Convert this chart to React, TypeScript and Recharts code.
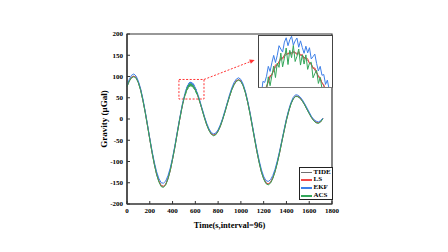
import React from "react";
import {
  Label,
  Line,
  LineChart,
  ReferenceArea,
  ReferenceLine,
  XAxis,
  YAxis,
} from "recharts";

// sample index (s, interval = 96); denser around the zoomed peak
const time = [
  0, 20, 40, 60, 80, 100, 120, 140, 160, 180, 200, 220, 240, 260, 280, 300, 320, 340, 360, 380, 400, 420, 440, 460,
  480, 485, 490, 495, 500, 505,
  510, 512.5, 515, 517.5, 520, 522.5, 525, 527.5, 530, 532.5, 535, 537.5, 540, 542.5, 545, 547.5, 550, 552.5, 555,
  557.5, 560, 562.5, 565, 567.5, 570, 572.5, 575, 577.5, 580, 582.5, 585, 587.5, 590, 592.5, 595, 597.5, 600, 602.5,
  605, 607.5, 610, 612.5, 615,
  620, 625, 630, 635, 640, 645, 650, 655, 660,
  680, 700, 720, 740, 760, 780, 800, 820, 840, 860, 880, 900, 920, 940, 960, 980, 1000, 1020, 1040, 1060, 1080, 1100,
  1120, 1140, 1160, 1180, 1200, 1220, 1240, 1260, 1280, 1300, 1320, 1340, 1360, 1380, 1400, 1420, 1440, 1460, 1480,
  1500, 1520, 1540, 1560, 1580, 1600, 1620, 1640, 1660, 1680, 1700, 1720,
];

const tide = [
  77, 90, 98, 101, 97.5, 86.3, 68.1, 44.2, 15.6, -15.4, -47.4, -78.3, -106.2, -129.4, -146.3, -156.5, -158.8, -153.3,
  -140.1, -120.2, -94.8, -66, -35.1, -4.6,
  23.7, 30.2, 36.3, 42.2, 47.7, 52.9,
  57.8, 60.0, 62.1, 64.1, 66.1, 67.8, 69.5, 71.2, 72.6, 74.0, 75.3, 76.4, 77.4, 78.4, 79.0, 79.7, 80.2, 80.6, 80.8,
  81.0, 81.0, 80.9, 80.7, 80.5, 80.1, 79.7, 79.2, 78.6, 77.9, 77.1, 76.2, 75.3, 74.2, 73.1, 71.9, 70.6, 69.3, 67.9,
  66.4, 64.9, 63.2, 61.6, 59.8,
  56.2, 52.3, 48.3, 44.1, 39.7, 35.3, 30.7, 26.1, 21.5,
  3.3, -13.2, -26.3, -34.9, -38, -35.6, -28.1, -16.2, -0.7, 17.0, 35.6, 53.5, 69.3, 81.6, 89.6, 92.5, 89.2, 78.8, 61.9,
  39.7, 13.0, -16.0, -46.0, -75.0, -101.3, -123.5, -139.9, -150.1, -153, -149.0, -138.8, -122.9, -102.4, -78.5, -52.7,
  -26.8, -2.2, 19.2, 36.2, 48.1, 53.6, 53.3, 49.4, 42.7, 33.7, 23.5, 13.3, 4.0, -3.3, -7.8, -9, -6, 1,
];

const ls = [
  77.5, 89.2, 98.6, 100.4, 98.1, 85.6, 68.9, 43.5, 16.2, -16.1, -46.8, -78.9, -105.6, -130.0, -145.7, -157.2, -158.1,
  -154.0, -139.5, -120.9, -94.2, -66.7, -34.5, -5.2,
  24.2, 29.7, 36.9, 41.7, 48.2, 52.4,
  58.3, 59.6, 62.8, 63.9, 66.7, 67.2, 69.8, 72.0, 72.1, 74.2, 76.2, 76.0, 77.3, 79.1, 78.4, 80.1, 81.0, 80.3, 81.4,
  80.3, 81.5, 81.1, 80.2, 81.4, 79.9, 80.3, 78.4, 78.9, 78.6, 76.7, 76.7, 74.7, 75.0, 73.2, 71.4, 71.3, 69.0, 68.5,
  65.7, 65.3, 63.4, 61.1, 60.4,
  56.8, 51.7, 48.9, 43.5, 40.3, 34.7, 31.3, 25.5, 22.1,
  3.9, -13.8, -25.7, -35.5, -37.4, -36.1, -27.5, -16.8, -0.1, 16.4, 36.2, 52.9, 69.9, 81.0, 90.2, 91.9, 89.8, 78.2,
  62.5, 39.1, 13.6, -16.6, -45.4, -75.6, -100.7, -124.1, -139.3, -150.7, -152.4, -149.6, -138.2, -123.5, -101.8,
  -79.1, -52.1, -27.4, -1.6, 18.6, 36.8, 47.5, 54.2, 52.7, 50.0, 42.1, 34.3, 22.9, 13.9, 3.4, -2.7, -8.4, -8.4, -6.6,
  1.5,
];

const ekf = [
  79, 93, 103, 106, 101, 89, 71, 47, 18, -13, -45, -75, -102, -124, -140, -150, -151, -146, -133, -115, -91, -63, -32,
  -2,
  26.5, 33.8, 38.9, 45.6, 50.4, 56.3,
  60.5, 64.8, 64.0, 69.7, 69.3, 71.7, 75.6, 73.6, 77.0, 79.9, 77.1, 79.9, 83.7, 82.4, 81.2, 85.1, 86.8, 83.7, 86.0,
  87.4, 83.9, 85.6, 86.7, 83.1, 85.6, 83.0, 80.7, 83.5, 80.9, 82.9, 78.5, 79.4, 80.4, 76.7, 73.8, 75.6, 72.1, 72.4,
  68.5, 70.2, 66.6, 63.3, 63.7,
  59.8, 55.1, 51.9, 46.8, 43.1, 37.9, 34.0, 28.7, 24.6,
  6, -10, -23, -32, -35, -33, -25, -13, 2, 20, 38, 57, 73, 86, 94, 97, 93, 82, 65, 42, 16, -13, -43, -71, -97, -119,
  -135, -145, -147, -143, -133, -118, -98, -75, -50, -24, 1, 22, 39, 51, 57, 56, 52, 45, 36, 26, 16, 6, -1, -5, -7,
  -4, 2,
];

const acs = [
  76, 89, 97, 99.5, 96, 85, 67, 43, 15, -16, -48, -79, -107, -131, -148, -159, -161, -155, -141, -121, -95, -67, -36,
  -5,
  23.0, 29.1, 36.8, 40.6, 47.9, 51.5,
  58.1, 57.4, 63.3, 60.2, 66.9, 66.3, 71.5, 68.0, 72.0, 75.7, 71.2, 76.9, 75.2, 80.8, 75.4, 78.8, 82.8, 76.3, 81.9,
  79.0, 83.8, 77.5, 79.5, 82.4, 76.1, 80.1, 76.5, 80.1, 74.4, 76.8, 77.2, 71.1, 72.8, 74.0, 68.9, 71.2, 66.9, 67.1,
  62.6, 65.6, 61.3, 58.5, 60.6,
  55.4, 52.9, 46.8, 44.6, 38.5, 35.7, 29.6, 26.5, 20.8,
  2.5, -14, -27, -36, -39.5, -37, -29, -17, -1.5, 16, 35, 52.5, 68.5, 80.5, 88.5, 91.5, 88, 78, 61, 39, 12, -17, -47,
  -76, -102.5, -125, -141.5, -152, -155, -151, -140.5, -124, -103.5, -79.5, -53.5, -28, -3, 18, 35.5, 47, 53, 52.5,
  48.5, 42, 33, 22.5, 12.5, 3, -4.5, -9, -10.5, -7, 0.5,
];

const xTicks = [0, 200, 400, 600, 800, 1000, 1200, 1400, 1600, 1800];
const yTicks = [-200, -150, -100, -50, 0, 50, 100, 150, 200];

// dashed box marking the zoomed region, and the inset window
const zoomX = [456, 676];
const zoomY = [47, 93];
const insetX = [512, 614];
const insetY = [67.5, 87.5];
const arrowEnd = { x: 1121, y: 139 };

const series = [
  { key: "tide", name: "TIDE", color: "#6f6f6f" },
  { key: "ls", name: "LS", color: "#f24848" },
  { key: "ekf", name: "EKF", color: "#3d7fe8" },
  { key: "acs", name: "ACS", color: "#33a65a" },
];

const data = time.map((t, i) => ({
  t,
  tide: tide[i],
  ls: ls[i],
  ekf: ekf[i],
  acs: acs[i],
}));

const FONT = '"Liberation Serif", "Times New Roman", serif';
const tickStyle = { fill: "#000", fontSize: 7, fontWeight: "bold", fontFamily: FONT };
const axisLine = { stroke: "#333", strokeWidth: 1.2 };

function DashedArrow(props: any) {
  const { x1, y1, x2, y2 } = props;
  const a = Math.atan2(y2 - y1, x2 - x1);
  const head = 5;
  const half = 2.3;
  const bx = x2 - head * Math.cos(a);
  const by = y2 - head * Math.sin(a);
  const pts = [
    `${x2},${y2}`,
    `${bx - half * Math.sin(a)},${by + half * Math.cos(a)}`,
    `${bx + half * Math.sin(a)},${by - half * Math.cos(a)}`,
  ].join(" ");
  return (
    <g>
      <line x1={x1} y1={y1} x2={bx} y2={by} stroke="#f33" strokeWidth={1} strokeDasharray="2 1.6" />
      <polygon points={pts} fill="#f33" />
    </g>
  );
}

export default function App() {
  return (
    <div
      style={{
        position: "absolute",
        left: 0,
        top: 0,
        width: 448,
        height: 252,
        background: "#fff",
        fontFamily: FONT,
      }}
    >
      <LineChart
        width={448}
        height={252}
        data={data}
        margin={{ top: 34, right: 116, bottom: 6, left: 81 }}
      >
        <XAxis
          dataKey="t"
          type="number"
          domain={[0, 1800]}
          ticks={xTicks}
          height={42}
          tick={tickStyle}
          tickSize={-3}
          tickMargin={7}
          axisLine={axisLine}
          tickLine={{ stroke: "#333" }}
        >
          <Label
            value="Time(s,interval=96)"
            position="center"
            style={{ fontSize: 8.5, fontWeight: "bold", fontFamily: FONT, fill: "#000" }}
          />
        </XAxis>
        <YAxis
          type="number"
          domain={[-200, 200]}
          ticks={yTicks}
          width={46}
          tick={tickStyle}
          tickSize={-3}
          tickMargin={7}
          axisLine={axisLine}
          tickLine={{ stroke: "#333" }}
        >
          <Label
            value="Gravity (μGal)"
            position="center"
            angle={-90}
            style={{ fontSize: 9, fontWeight: "bold", fontFamily: FONT, fill: "#000" }}
          />
        </YAxis>
        <ReferenceArea x1={0} x2={1800} y1={-200} y2={200} fill="none" stroke="#333" strokeWidth={1.2} />
        {series.map((s) => (
          <Line
            key={s.key}
            dataKey={s.key}
            name={s.name}
            stroke={s.color}
            strokeWidth={1}
            dot={false}
            type="linear"
            isAnimationActive={false}
          />
        ))}
        <ReferenceArea
          x1={zoomX[0]}
          x2={zoomX[1]}
          y1={zoomY[0]}
          y2={zoomY[1]}
          fill="none"
          stroke="#f33"
          strokeWidth={1}
          strokeDasharray="2 1.6"
        />
        <ReferenceLine
          segment={[
            { x: zoomX[1], y: zoomY[1] },
            { x: arrowEnd.x, y: arrowEnd.y },
          ]}
          stroke="#f33"
          shape={DashedArrow}
        />
      </LineChart>

      {/* zoomed inset */}
      <div
        style={{
          position: "absolute",
          left: 258,
          top: 35,
          width: 75,
          height: 53,
          boxSizing: "border-box",
          border: "1px solid #444",
          borderBottom: "1.5px solid #777",
          background: "#fff",
        }}
      >
        <LineChart width={73} height={51} data={data} margin={{ top: 0, right: 0, bottom: 0, left: 0 }}>
          <XAxis dataKey="t" type="number" domain={insetX} allowDataOverflow hide />
          <YAxis type="number" domain={insetY} allowDataOverflow hide />
          {series.map((s) => (
            <Line
              key={s.key}
              dataKey={s.key}
              stroke={s.color}
              strokeWidth={1}
              dot={false}
              type="linear"
              isAnimationActive={false}
            />
          ))}
        </LineChart>
      </div>

      {/* legend */}
      <div
        style={{
          position: "absolute",
          left: 299,
          top: 167,
          width: 34,
          height: 33,
          boxSizing: "border-box",
          border: "1px solid #222",
          background: "#fff",
          paddingTop: 0.5,
        }}
      >
        {series.map((s) => (
          <div key={s.key} style={{ display: "flex", alignItems: "center", height: 7.8 }}>
            <div style={{ width: 11, height: 1.5, background: s.color, marginLeft: 1, marginRight: 1.5 }} />
            <span style={{ fontSize: 7, fontWeight: "bold", lineHeight: "7.8px", color: "#000" }}>{s.name}</span>
          </div>
        ))}
      </div>
    </div>
  );
}
